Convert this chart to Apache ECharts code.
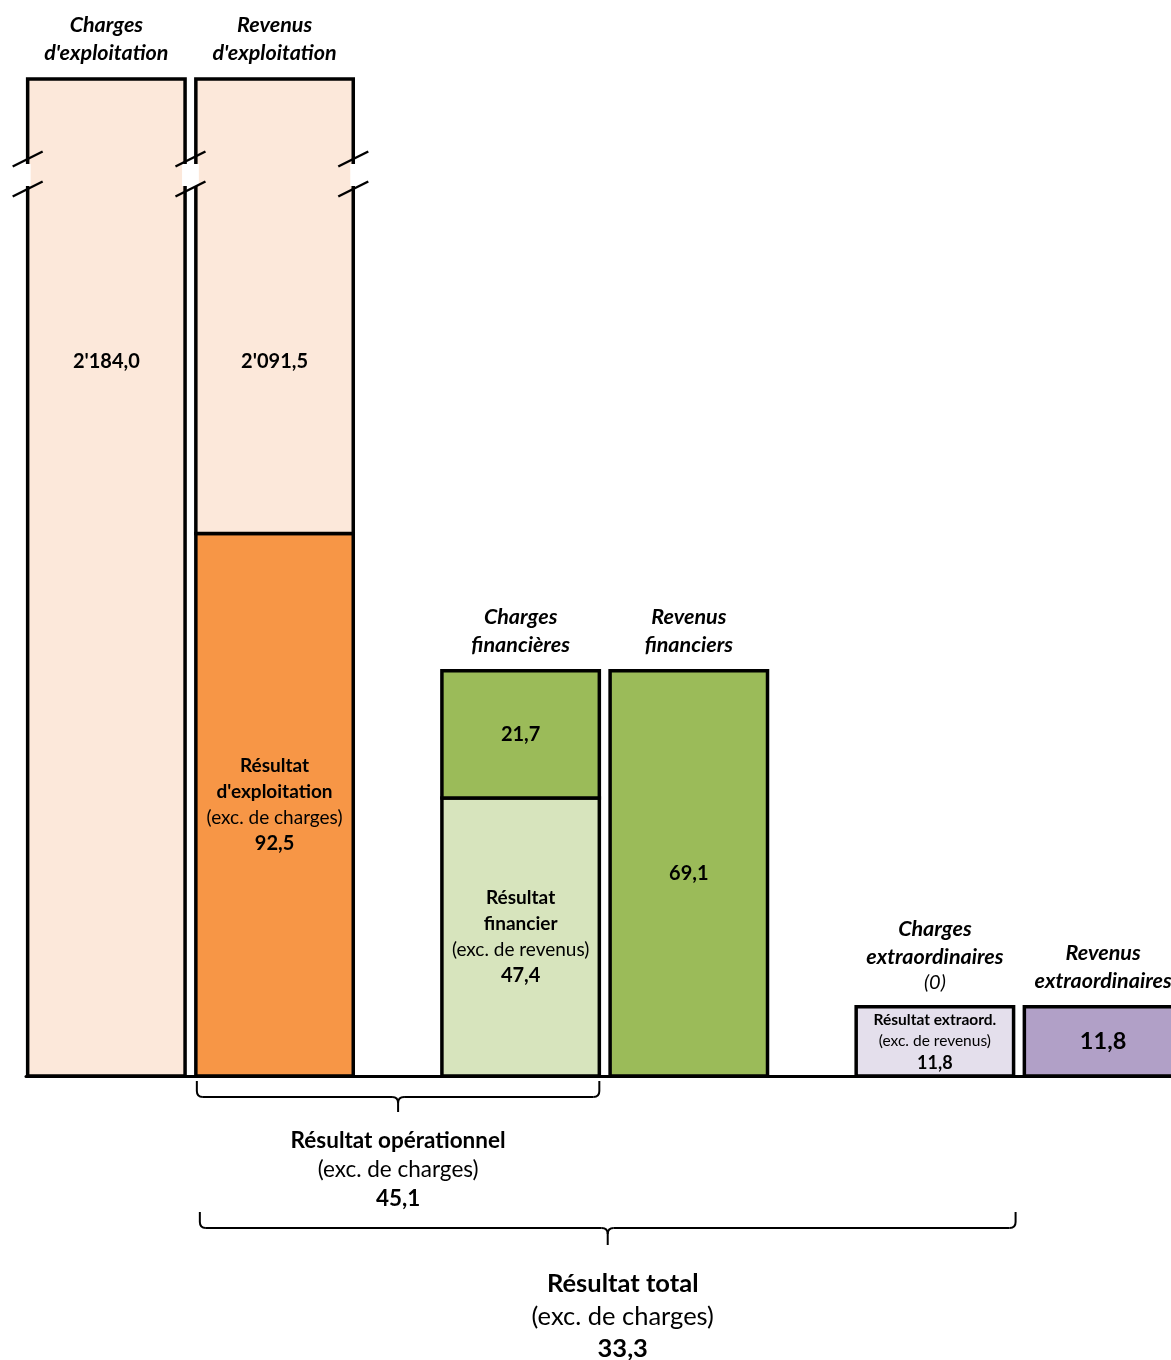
<!DOCTYPE html>
<html>
<head>
<meta charset="utf-8">
<title>Résultat total</title>
<script src="https://cdn.jsdelivr.net/npm/echarts@6.0.0/dist/echarts.min.js"></script>
<style>
    html, body { margin: 0; padding: 0; background: #fff; }
    #chart { width: 1171px; height: 1360px; }
</style>
</head>
<body>
<div id="chart"></div>
<script>
// 3 groupes de colonnes ; côté 0 = charges, côté 1 = revenus
var groups = ['Exploitation', 'Financier', 'Extraordinaire'];
var columnTitles = [
    ['Charges', "d'exploitation"], ['Revenus', "d'exploitation"],
    ['Charges', 'financières'], ['Revenus', 'financiers'],
    ['Charges', 'extraordinaires', '(0)'], ['Revenus', 'extraordinaires']
];

// segments empilés, de bas en haut dans chaque colonne
var segGroup = [0, 0, 0, 1, 1, 1, 2, 2];
var segSide  = [0, 1, 1, 0, 0, 1, 0, 1];
var segValue = [2184.0, 92.5, 2091.5, 47.4, 21.7, 69.1, 11.8, 11.8];
var segName  = ['', "Résultat\nd'exploitation", '', 'Résultat\nfinancier', '', '', 'Résultat extraord.', ''];
var segNote  = ['', '(exc. de charges)', '', '(exc. de revenus)', '', '', '(exc. de revenus)', ''];

// accolades sous l'axe
var bracketName  = ['Résultat opérationnel', 'Résultat total'];
var bracketNote  = ['(exc. de charges)', '(exc. de charges)'];
var bracketValue = [45.1, 33.3];
var bracketFrom  = [[0, 1], [0, 1]];   // [groupe, côté]
var bracketTo    = [[1, 0], [2, 0]];

// styles
var FONT = 'Lato, "Open Sans", sans-serif';
var Y_MAX = 170;           // au-dessus : colonne coupée
var segColor = ['#FCE8DA', '#F79646', '#FCE8DA', '#D7E4BD', '#9BBB59', '#9BBB59', '#E4DFEC', '#B1A0C7'];
var segFont  = ['m', 'm', 'm', 'm', 'm', 'm', 's', 'l'];
var richSets = {
    m: {
        nm: { fontFamily: FONT, fontWeight: 'bold', fontSize: 19, lineHeight: 26, fill: '#000' },
        nt: { fontFamily: FONT, fontSize: 19, lineHeight: 26, fill: '#000' },
        vl: { fontFamily: FONT, fontWeight: 'bold', fontSize: 20, lineHeight: 26, fill: '#000' }
    },
    s: {
        nm: { fontFamily: FONT, fontWeight: 'bold', fontSize: 15.5, lineHeight: 21.5, fill: '#000' },
        nt: { fontFamily: FONT, fontSize: 15.5, lineHeight: 21.5, fill: '#000' },
        vl: { fontFamily: FONT, fontWeight: 'bold', fontSize: 18, lineHeight: 22, fill: '#000' }
    },
    l: {
        vl: { fontFamily: FONT, fontWeight: 'bold', fontSize: 23.5, lineHeight: 28, fill: '#000' }
    }
};
var titleRich = {
    t: { fontFamily: FONT, fontWeight: 'bold', fontStyle: 'italic', fontSize: 21.5, lineHeight: 28, fill: '#000' },
    ti: { fontFamily: FONT, fontStyle: 'italic', fontSize: 20, lineHeight: 24, fill: '#000' }
};

function fmt(v) {
    var s = v.toFixed(1).split('.');
    return s[0].replace(/\B(?=(\d{3})+(?!\d))/g, "'") + ',' + s[1];
}

// bases des empilements
var segBase = [], colTotal = {}, colTopSeg = {};
for (var i = 0; i < segValue.length; i++) {
    var key = segGroup[i] * 2 + segSide[i];
    var b = colTotal[key] || 0;
    segBase.push(b);
    colTotal[key] = b + segValue[i];
    colTopSeg[key] = i;
}

var segData = segValue.map(function (v, i) {
    return [segGroup[i], segSide[i], segBase[i], segBase[i] + v];
});
var bracketData = bracketName.map(function (n, i) {
    return [bracketFrom[i][0], bracketFrom[i][1], bracketTo[i][0], bracketTo[i][1], i];
});

function barGeom(api, g, side) {
    var unit = api.size([1, 0])[0];
    var w = unit * 0.38, off = unit * 0.203;
    var gx = api.coord([g, 0])[0];
    var cx = gx + (side ? off : -off);
    return { gx: gx, cx: cx, w: w, l: cx - w / 2, r: cx + w / 2 };
}

function slash(x, y) {
    return {
        type: 'line',
        shape: { x1: x - 15, y1: y + 7.5, x2: x + 15, y2: y - 7.5 },
        style: { stroke: '#000', lineWidth: 2.5 }
    };
}

function renderSeg(params, api) {
    var i = params.dataIndex;
    var g = api.value(0), side = api.value(1), base = api.value(2), top = api.value(3);
    var bg = barGeom(api, g, side);
    var capped = top > Y_MAX;
    var y0 = api.coord([g, base])[1];
    var y1 = api.coord([g, Math.min(top, Y_MAX)])[1];
    var yZero = api.coord([g, 0])[1];
    var children = [{
        type: 'rect',
        shape: { x: bg.l, y: y1, width: bg.w, height: y0 - y1 },
        style: { fill: segColor[i], stroke: '#000', lineWidth: 3.5 }
    }];

    if (capped) {
        var yb = y1 + 80;
        var partner = (colTotal[g * 2 + (1 - side)] || 0) > Y_MAX;
        [bg.l, bg.r].forEach(function (ex) {
            children.push({
                type: 'rect',
                shape: { x: ex - 3, y: yb + 5, width: 6, height: 22 },
                style: { fill: '#fff' }
            });
        });
        if (side === 0) {
            children.push(slash(bg.l, yb), slash(bg.l, yb + 30));
            if (!partner) children.push(slash(bg.r, yb), slash(bg.r, yb + 30));
        } else {
            children.push(slash(bg.r, yb), slash(bg.r, yb + 30));
            if (partner) children.push(slash(bg.gx, yb), slash(bg.gx, yb + 30));
            else children.push(slash(bg.l, yb), slash(bg.l, yb + 30));
        }
    }

    // étiquette du segment
    var lines = [];
    if (segName[i]) segName[i].split('\n').forEach(function (l) { lines.push('{nm|' + l + '}'); });
    if (segNote[i]) lines.push('{nt|' + segNote[i] + '}');
    lines.push('{vl|' + fmt(segValue[i]) + '}');
    var ly = capped ? y1 + 0.283 * (yZero - y1) : (y0 + y1) / 2;
    children.push({
        type: 'text',
        x: bg.cx, y: ly,
        style: {
            text: lines.join('\n'), rich: richSets[segFont[i]],
            align: 'center', verticalAlign: 'middle', fontFamily: FONT, fill: '#000'
        }
    });

    // titre de colonne
    var key = g * 2 + side;
    if (colTopSeg[key] === i) {
        var tl = columnTitles[key].map(function (l) {
            return (l.charAt(0) === '(' ? '{ti|' : '{t|') + l + '}';
        });
        children.push({
            type: 'text',
            x: bg.cx, y: y1 - 12,
            style: {
                text: tl.join('\n'), rich: titleRich,
                align: 'center', verticalAlign: 'bottom', fontFamily: FONT, fill: '#000'
            }
        });
    }
    return { type: 'group', children: children };
}

var bracketLayout = [
    { top: 5, h: 21, tip: 36, text: 50, size: 22.5, lh: 29, dx: 0 },
    { top: 136, h: 152, tip: 169, text: 192, size: 25.5, lh: 32.5, dx: 15 }
];

function renderBracket(params, api) {
    var i = params.dataIndex;
    var a = barGeom(api, api.value(0), api.value(1));
    var z = barGeom(api, api.value(2), api.value(3));
    var L = bracketLayout[i];
    var yBase = api.coord([0, 0])[1];
    var xa = a.l + 1 + i * 3, xb = z.r + i * 2, xm = (xa + xb) / 2;
    var yT = yBase + L.top, yH = yBase + L.h, yP = yBase + L.tip, r = 6;
    var st = { stroke: '#000', lineWidth: 2, fill: 'none' };
    var children = [
        { type: 'line', shape: { x1: xa, y1: yT, x2: xa, y2: yH - r }, style: st },
        { type: 'bezierCurve', shape: { x1: xa, y1: yH - r, cpx1: xa, cpy1: yH, x2: xa + r, y2: yH }, style: st },
        { type: 'line', shape: { x1: xa + r, y1: yH, x2: xm - r, y2: yH }, style: st },
        { type: 'bezierCurve', shape: { x1: xm - r, y1: yH, cpx1: xm, cpy1: yH, x2: xm, y2: yH + r }, style: st },
        { type: 'bezierCurve', shape: { x1: xm + r, y1: yH, cpx1: xm, cpy1: yH, x2: xm, y2: yH + r }, style: st },
        { type: 'line', shape: { x1: xm, y1: yH + r, x2: xm, y2: yP }, style: st },
        { type: 'line', shape: { x1: xm + r, y1: yH, x2: xb - r, y2: yH }, style: st },
        { type: 'bezierCurve', shape: { x1: xb - r, y1: yH, cpx1: xb, cpy1: yH, x2: xb, y2: yH - r }, style: st },
        { type: 'line', shape: { x1: xb, y1: yH - r, x2: xb, y2: yT }, style: st }
    ];
    var rich = {
        b: { fontFamily: FONT, fontWeight: 'bold', fontSize: L.size, lineHeight: L.lh, fill: '#000' },
        n: { fontFamily: FONT, fontSize: L.size, lineHeight: L.lh, fill: '#000' }
    };
    children.push({
        type: 'text',
        x: xm + L.dx, y: yBase + L.text,
        style: {
            text: '{b|' + bracketName[i] + '}\n{n|' + bracketNote[i] + '}\n{b|' + fmt(bracketValue[i]) + '}',
            rich: rich, align: 'center', verticalAlign: 'top', fontFamily: FONT, fill: '#000'
        }
    });
    return { type: 'group', children: children };
}

var chart = echarts.init(document.getElementById('chart'));
chart.setOption({
    animation: false,
    grid: { left: 26, right: 0, top: 79, bottom: 284 },
    xAxis: {
        type: 'value', min: -0.397, max: 2.367,
        axisLine: { show: true, lineStyle: { color: '#000', width: 3 } },
        axisTick: { show: false }, axisLabel: { show: false }, splitLine: { show: false }
    },
    yAxis: { type: 'value', min: 0, max: Y_MAX, show: false },
    series: [
        { type: 'custom', name: 'segments', renderItem: renderSeg, data: segData, encode: { x: 0, y: 3 }, clip: false },
        { type: 'custom', name: 'accolades', renderItem: renderBracket, data: bracketData, encode: { x: 0 }, clip: false }
    ]
});
</script>
</body>
</html>
